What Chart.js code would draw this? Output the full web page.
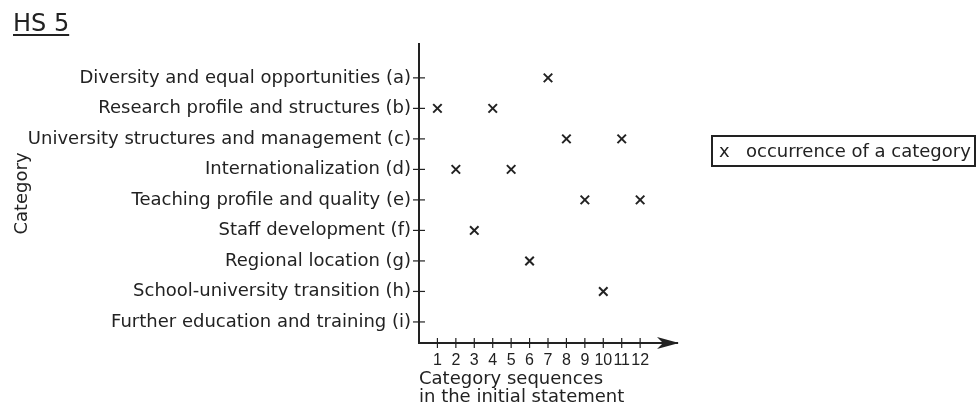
<!DOCTYPE html>
<html>
<head>
<meta charset="utf-8">
<script src="https://cdn.jsdelivr.net/npm/chart.js@4.4.1/dist/chart.umd.min.js"></script>
<style>
  body { margin: 0; background: #fff; font-family: "DejaVu Sans", sans-serif; color: #222; }
  #wrap { position: relative; width: 978px; height: 407px; }
  #title { position: absolute; left: 13px; top: 9px; font-size: 24px; text-decoration: underline; text-underline-offset: 3px; }
  #legend { position: absolute; left: 711px; top: 135px; width: 261px; height: 28px; border: 2px solid #222;
            font-size: 18px; line-height: 28px; white-space: nowrap; }
  #legend .mk { position: absolute; left: 6px; }
  #legend .tx { position: absolute; left: 33px; }
</style>
</head>
<body>
<div id="wrap">
  <canvas id="chart"></canvas>
  <div id="title">HS 5</div>
  <div id="legend"><span class="mk">x</span><span class="tx">occurrence of a category</span></div>
</div>
<script>
// categories top to bottom
const categories = [
  "Diversity and equal opportunities (a)",
  "Research profile and structures (b)",
  "University structures and management (c)",
  "Internationalization (d)",
  "Teaching profile and quality (e)",
  "Staff development (f)",
  "Regional location (g)",
  "School-university transition (h)",
  "Further education and training (i)"
];
const sequences = [1, 2, 3, 4, 5, 6, 7, 8, 9, 10, 11, 12];
// sequence position where each category occurs (index matches categories)
const occurrences = [
  [7],
  [1, 4],
  [8, 11],
  [2, 5],
  [9, 12],
  [3],
  [6],
  [10],
  []
];

const points = [];
occurrences.forEach((seq, i) => seq.forEach(s => points.push({ x: s, y: i })));

const ink = "#222";

// tick marks crossing the axes + arrow head on x axis
const axisMarks = {
  id: "axisMarks",
  afterDraw(chart) {
    const ctx = chart.ctx;
    const xs = chart.scales.x, ys = chart.scales.y;
    const area = chart.chartArea;
    ctx.save();
    ctx.strokeStyle = ink;
    ctx.lineWidth = 1.2;
    ys.ticks.forEach(t => {
      const py = ys.getPixelForValue(t.value);
      ctx.beginPath(); ctx.moveTo(area.left - 6, py); ctx.lineTo(area.left + 6, py); ctx.stroke();
    });
    xs.ticks.forEach(t => {
      const px = xs.getPixelForValue(t.value);
      ctx.beginPath(); ctx.moveTo(px, area.bottom - 5); ctx.lineTo(px, area.bottom + 5); ctx.stroke();
    });
    ctx.fillStyle = ink;
    ctx.beginPath();
    ctx.moveTo(area.right + 2, area.bottom);
    ctx.lineTo(area.right - 20, area.bottom - 6);
    ctx.lineTo(area.right - 14, area.bottom);
    ctx.lineTo(area.right - 20, area.bottom + 6);
    ctx.closePath();
    ctx.fill();
    ctx.restore();
  }
};

new Chart(document.getElementById("chart"), {
  type: "scatter",
  data: {
    datasets: [{
      label: "occurrence of a category",
      data: points,
      pointStyle: "crossRot",
      pointRadius: 6,
      pointHoverRadius: 6,
      borderColor: ink,
      borderWidth: 2
    }]
  },
  options: {
    responsive: true,
    maintainAspectRatio: false,
    animation: false,
    layout: { padding: { top: 44, right: 301, left: 0, bottom: 0 } },
    plugins: { legend: { display: false }, tooltip: { enabled: false } },
    scales: {
      x: {
        type: "linear",
        min: 0,
        max: 14,
        afterBuildTicks: s => { s.ticks = sequences.map(v => ({ value: v })); },
        afterFit: s => { s.height = 64; },
        grid: { display: false, drawTicks: false },
        border: { color: ink, width: 2 },
        ticks: {
          autoSkip: false, maxRotation: 0, padding: 8, color: ink,
          font: { family: "Liberation Sans", size: 16 }
        },
        title: {
          display: true,
          text: ["Category sequences", "in the initial statement"],
          align: "start",
          color: ink,
          padding: { bottom: 1, top: 0 },
          font: { family: "DejaVu Sans", size: 18, lineHeight: 1 }
        }
      },
      y: {
        type: "linear",
        reverse: true,
        min: -1.11,
        max: 8.69,
        afterBuildTicks: s => { s.ticks = categories.map((c, i) => ({ value: i })); },
        afterFit: s => { s.width = 419; },
        grid: { display: false, drawTicks: false },
        border: { color: ink, width: 2 },
        ticks: {
          autoSkip: false, padding: 8, color: ink,
          font: { family: "DejaVu Sans", size: 18 },
          callback: v => categories[v]
        },
        title: {
          display: true,
          text: "Category",
          color: ink,
          padding: { top: 12 },
          font: { family: "DejaVu Sans", size: 18 }
        }
      }
    }
  },
  plugins: [axisMarks]
});
</script>
</body>
</html>
